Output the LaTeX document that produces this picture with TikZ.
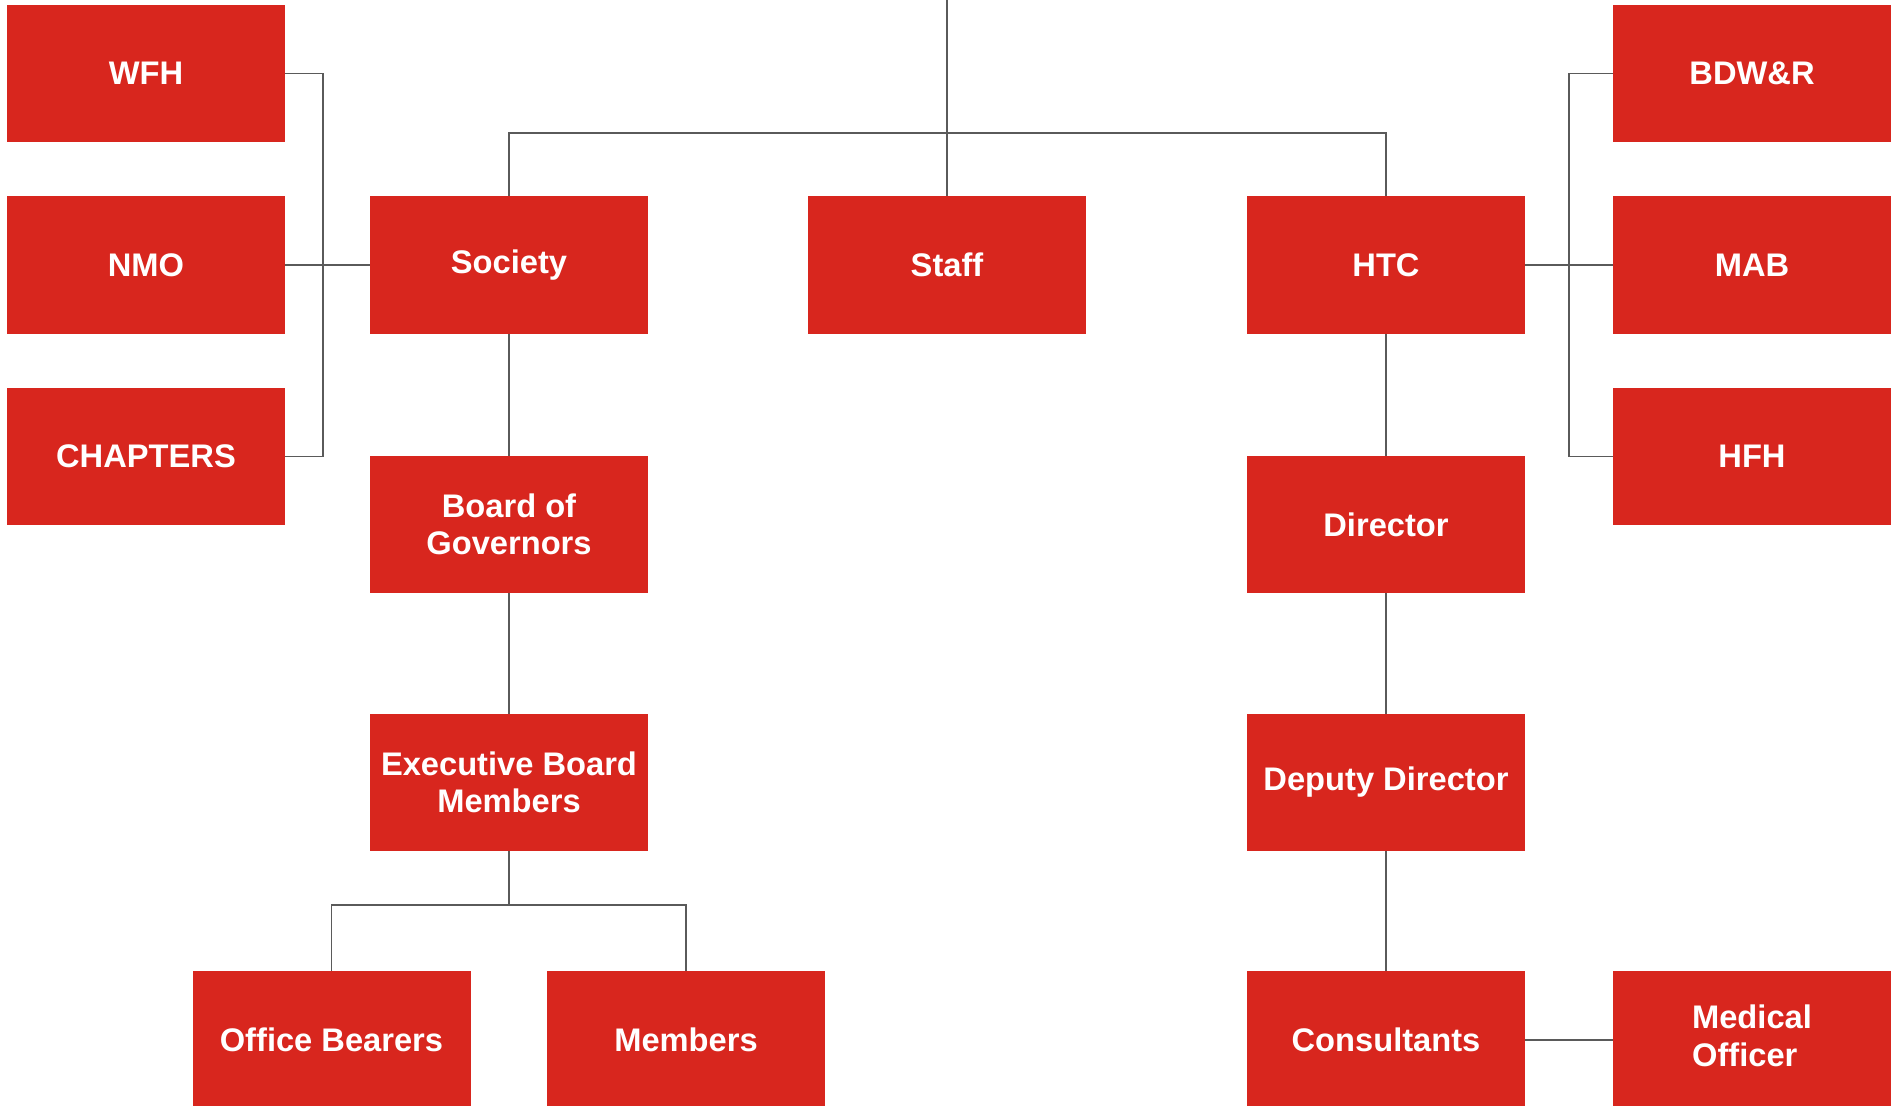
\documentclass[tikz,border=0pt]{standalone}
\usepackage{fontspec}
\setmainfont{Liberation Sans}
\definecolor{boxred}{RGB}{216,38,30}
\definecolor{linegray}{RGB}{90,90,90}
\begin{document}
\begin{tikzpicture}[x=0.75pt,y=-0.75pt,
  orgbox/.style={rectangle, fill=boxred, draw=none, inner sep=0pt,
    minimum width=208.5pt, minimum height=103pt, text=white, align=center,
    font=\fontsize{24.5}{27.5}\selectfont\bfseries},
  link/.style={draw=linegray, line width=0.8pt}]
\useasboundingbox[fill=white] (0,0) rectangle (1900,1106);
% left column
\node[orgbox] (wfh) at (146,73.5) {WFH};
\node[orgbox] (nmo) at (146,265) {NMO};
\node[orgbox] (chap) at (146,456.5) {CHAPTERS};
% level 2
\node[orgbox] (society) at (509,265) {Society};
\node[orgbox] (staff) at (947,265) {Staff};
\node[orgbox] (htc) at (1386,265) {HTC};
% right column
\node[orgbox] (bdw) at (1752,73.5) {BDW\&R};
\node[orgbox] (mab) at (1752,265) {MAB};
\node[orgbox] (hfh) at (1752,456.5) {HFH};
% lower levels
\node[orgbox] (board) at (509,524.5) {Board of\\Governors};
\node[orgbox] (director) at (1386,524.5) {Director};
\node[orgbox] (exec) at (509,782.5) {Executive Board\\Members};
\node[orgbox] (deputy) at (1386,782.5) {Deputy Director};
\node[orgbox] (ob) at (331.5,1040) {Office Bearers};
\node[orgbox] (members) at (686,1040) {Members};
\node[orgbox] (consult) at (1386,1040) {Consultants};
\node[orgbox] (medical) at (1752,1040) {\begin{tabular}{@{}l@{}}Medical\\[1pt]Officer\end{tabular}};
% coordinates
\coordinate (top) at (947,0);
\coordinate (busL) at (509,133);
\coordinate (busR) at (1386,133);
\coordinate (lb) at (323,265);
\coordinate (rb) at (1569,265);
\coordinate (eb) at (509,905);
% connectors
\draw[link] (top) -- (staff.north);
\draw[link] (society.north) -- (busL) -- (busR) -- (htc.north);
\draw[link] (wfh.east) -| (lb) |- (chap.east);
\draw[link] (nmo.east) -- (society.west);
\draw[link] (bdw.west) -| (rb) |- (hfh.west);
\draw[link] (htc.east) -- (mab.west);
\draw[link] (society.south) -- (board.north);
\draw[link] (board.south) -- (exec.north);
\draw[link] (exec.south) -- (eb);
\draw[link] (ob.north) |- (eb) -| (members.north);
\draw[link] (htc.south) -- (director.north);
\draw[link] (director.south) -- (deputy.north);
\draw[link] (deputy.south) -- (consult.north);
\draw[link] (consult.east) -- (medical.west);
\end{tikzpicture}
\end{document}
